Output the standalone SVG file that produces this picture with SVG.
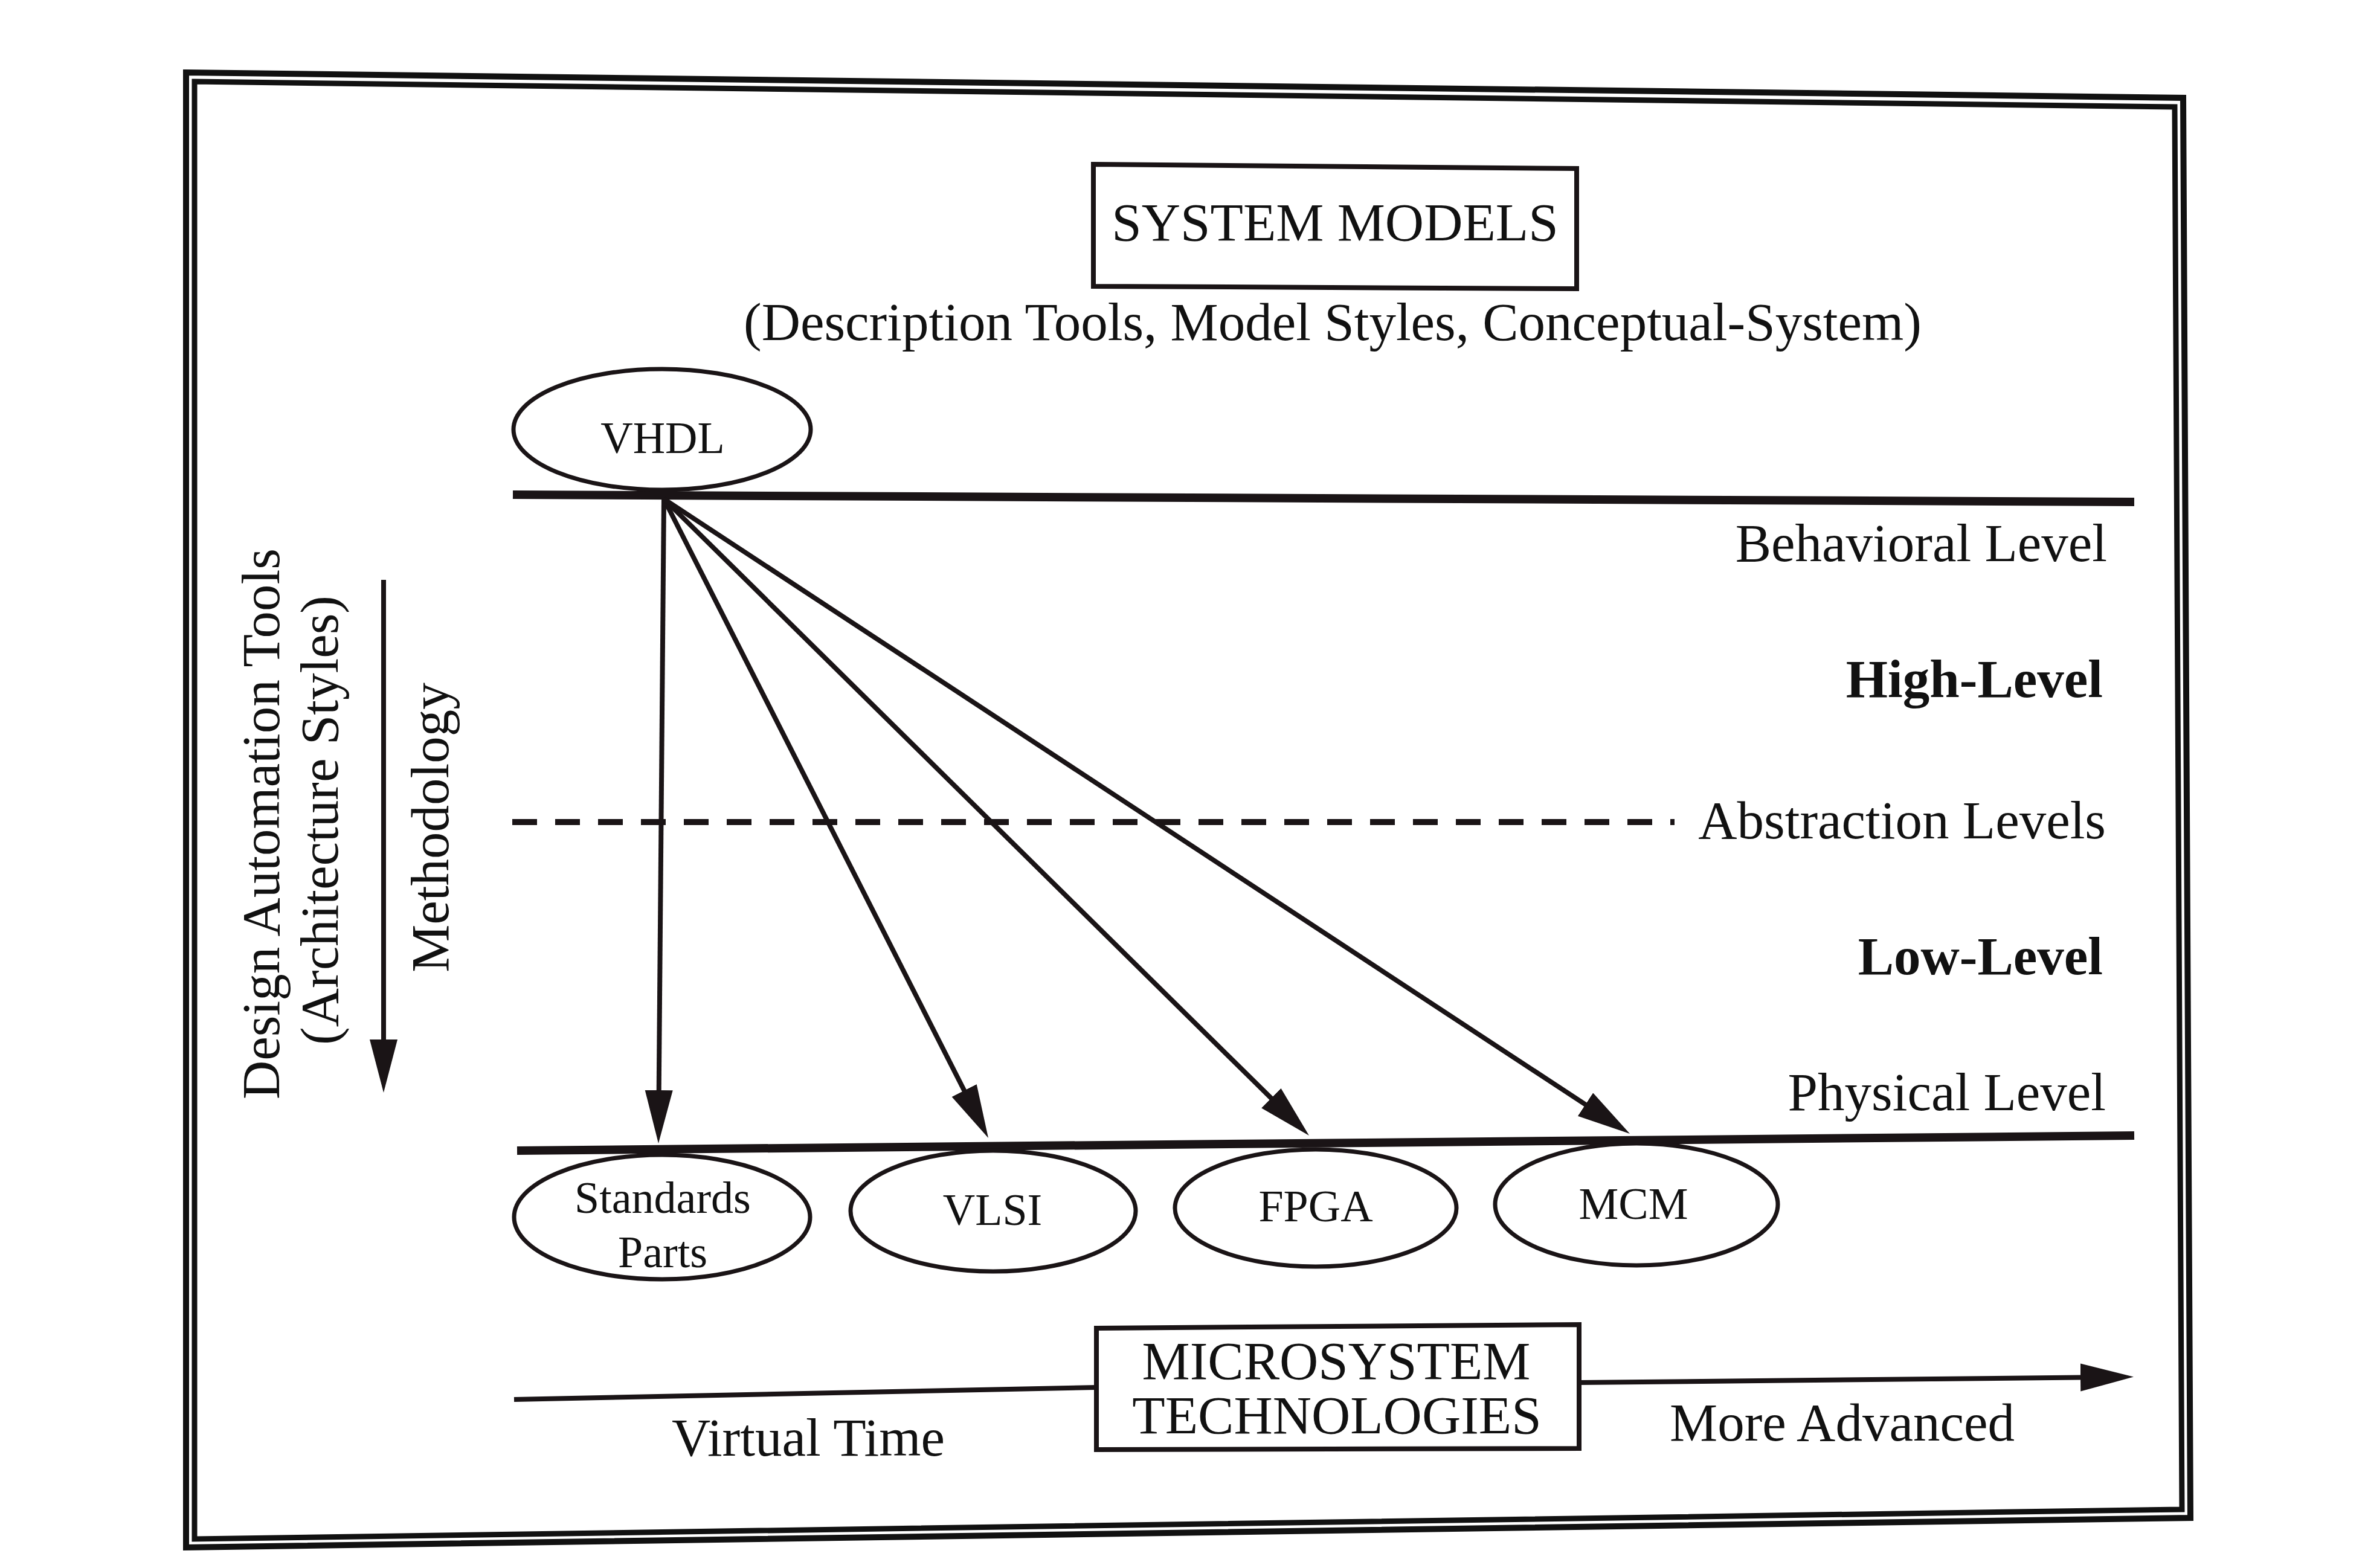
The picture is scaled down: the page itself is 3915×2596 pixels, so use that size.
<svg xmlns="http://www.w3.org/2000/svg" width="3915" height="2596" viewBox="0 0 3915 2596">
<style>
text{font-family:"Liberation Serif","Times New Roman",serif;fill:#111;}
.t{font-size:89px;}
.b{font-size:89px;font-weight:bold;}
.n{font-size:74px;text-anchor:middle;}
.frame{fill:none;stroke:#111;stroke-linejoin:miter;}
.node{fill:#fff;stroke:#1a1416;stroke-width:7;}
.box{fill:#fff;stroke:#1a1416;stroke-width:8;}
.lvl{stroke:#1a1416;stroke-width:14;fill:none;}
.arr{stroke:#1a1416;stroke-width:8;fill:none;}
</style>
<defs>
<marker id="ah" markerUnits="userSpaceOnUse" markerWidth="100" markerHeight="60" refX="48" refY="23" orient="auto" viewBox="0 0 100 60">
<path d="M0,0 L88,23 L0,46 Z" fill="#1a1416"/>
</marker>
</defs>
<rect width="3915" height="2596" fill="#fff"/>
<g id="frame">
<polygon class="frame" stroke-width="10" points="308,120 3614,162 3626,2513 308,2562"/>
<polygon class="frame" stroke-width="9" points="322,135 3600,177 3612,2499 322,2548"/>
</g>
<g id="levels">
<line class="lvl" x1="849" y1="819" x2="3533" y2="831" stroke-width="13"/>
<line class="lvl" x1="856" y1="1905" x2="3533" y2="1880"/>
<line x1="848" y1="1361" x2="2772" y2="1361" stroke="#1a1416" stroke-width="10" stroke-dasharray="41,30"/>
</g>
<g id="system-models">
<polygon class="box" stroke-width="7" points="1810,272 2610,279 2610,478 1810,474"/>
<text class="t" x="2210" y="398" text-anchor="middle">SYSTEM MODELS</text>
</g>
<text class="t" x="2206" y="563" text-anchor="middle">(Description Tools, Model Styles, Conceptual-System)</text>
<g id="vhdl">
<ellipse class="node" cx="1096" cy="711" rx="246" ry="100"/>
<text class="n" x="1097" y="750">VHDL</text>
</g>
<g id="standards">
<ellipse class="node" cx="1096" cy="2015" rx="245" ry="103"/>
<text class="n" x="1097" y="2008">Standards</text>
<text class="n" x="1097" y="2098">Parts</text>
</g>
<g id="vlsi">
<ellipse class="node" cx="1644" cy="2005" rx="236" ry="100"/>
<text class="n" x="1643" y="2028">VLSI</text>
</g>
<g id="fpga">
<ellipse class="node" cx="2178" cy="2000" rx="233" ry="97"/>
<text class="n" x="2178" y="2022">FPGA</text>
</g>
<g id="mcm">
<ellipse class="node" cx="2709" cy="1994" rx="234" ry="101"/>
<text class="n" x="2704" y="2018">MCM</text>
</g>
<g id="connectors">
<line class="arr" x1="1099" y1="826" x2="1090.3" y2="1853" marker-end="url(#ah)"/>
<line class="arr" x1="1099" y1="826" x2="1617.9" y2="1848.3" marker-end="url(#ah)"/>
<line class="arr" x1="1099" y1="826" x2="2138.5" y2="1851.9" marker-end="url(#ah)"/>
<line class="arr" x1="1099" y1="826" x2="2664.6" y2="1855" marker-end="url(#ah)"/>
<line class="arr" x1="635" y1="960" x2="635" y2="1769" marker-end="url(#ah)" stroke-width="9"/>
<line class="arr" x1="851" y1="2317" x2="1815" y2="2297" stroke-width="9"/>
<line class="arr" x1="2614" y1="2289" x2="3492" y2="2280" stroke-width="10" marker-end="url(#ah)"/>
</g>
<g id="microsystem">
<polygon class="box" points="1815,2199 2614,2193 2614,2398 1815,2400"/>
<text class="t" x="2212" y="2283" text-anchor="middle">MICROSYSTEM</text>
<text class="t" x="2213" y="2373" text-anchor="middle">TECHNOLOGIES</text>
</g>
<g id="labels">
<text class="t" x="3488" y="929" text-anchor="end">Behavioral Level</text>
<text class="b" x="3481" y="1154" text-anchor="end">High-Level</text>
<text class="t" x="3486" y="1388" text-anchor="end">Abstraction Levels</text>
<text class="b" x="3481" y="1613" text-anchor="end">Low-Level</text>
<text class="t" x="3486" y="1838" text-anchor="end">Physical Level</text>
<text class="t" x="1338" y="2410" text-anchor="middle">Virtual Time</text>
<text class="t" x="2764" y="2385">More Advanced</text>
<text class="t" transform="translate(462,1364) rotate(-90)" text-anchor="middle">Design Automation Tools</text>
<text class="t" transform="translate(559,1358) rotate(-90)" text-anchor="middle">(Architecture Styles)</text>
<text class="t" transform="translate(742,1370) rotate(-90)" text-anchor="middle">Methodology</text>
</g>
</svg>
